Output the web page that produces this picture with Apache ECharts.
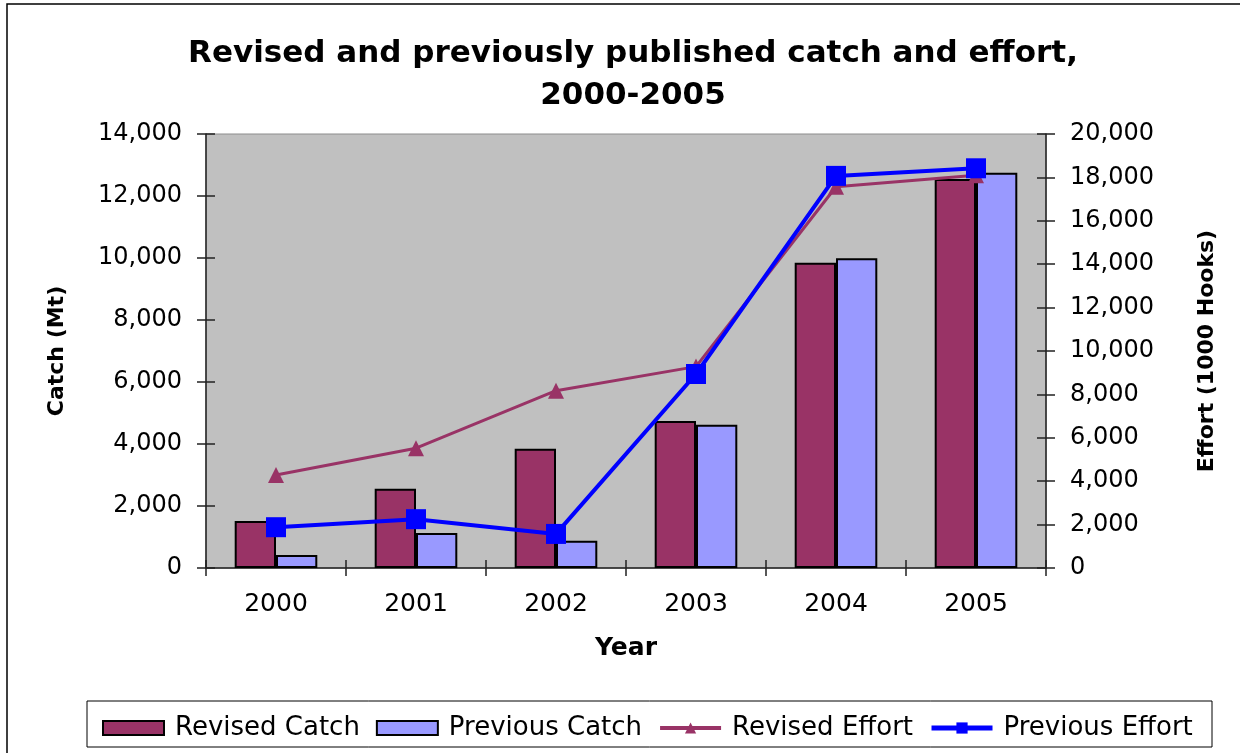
<!DOCTYPE html>
<html>
<head>
<meta charset="utf-8">
<script src="https://cdn.jsdelivr.net/npm/echarts@6/dist/echarts.min.js"></script>
<style>
  html, body { margin: 0; padding: 0; background: #ffffff; }
  #chart { width: 1240px; height: 753px; }
</style>
</head>
<body>
<div id="chart"></div>
<script>
// Catch (Mt) and effort (1000 hooks), revised vs previously published
const years = ['2000', '2001', '2002', '2003', '2004', '2005'];
const revisedCatch = [1520, 2560, 3850, 4740, 9850, 12550];
const previousCatch = [420, 1130, 880, 4620, 9990, 12750];
const revisedEffort = [4290, 5520, 8170, 9280, 17570, 18100];
const previousEffort = [1880, 2250, 1570, 8940, 18070, 18420];
const catchTicks = { min: 0, max: 14000, interval: 2000 };
const effortTicks = { min: 0, max: 20000, interval: 2000 };

const FONT = 'DejaVu Sans';
const fmt = v => Number(v).toLocaleString('en-US');

const chart = echarts.init(document.getElementById('chart'), null, { renderer: 'canvas' });

const grid = { left: 206, right: 194, top: 134, bottom: 185 };

chart.setOption({
  backgroundColor: '#ffffff',
  animation: false,
  textStyle: { fontFamily: FONT, color: '#000' },
  title: {
    text: 'Revised and previously published catch and effort,\n2000-2005',
    left: 628,
    textAlign: 'center',
    top: 28,
    textStyle: { fontFamily: FONT, fontSize: 31, fontWeight: 'bold', lineHeight: 42, color: '#000' }
  },
  graphic: [
    {
      type: 'rect', silent: true, z: -1,
      shape: { x: 7, y: 4, width: 1300, height: 800 },
      style: { fill: null, stroke: '#000', lineWidth: 1.5 }
    },
    {
      type: 'rect', silent: true,
      shape: { x: 87, y: 701, width: 1125, height: 46 },
      style: { fill: '#fff', stroke: '#000', lineWidth: 1 }
    }
  ],
  legend: {
    left: 97, top: 710,
    itemWidth: 61, itemHeight: 14, itemGap: 16,
    textStyle: { fontFamily: FONT, fontSize: 26, color: '#000', padding: [0, 0, 0, 6] },
    data: [
      { name: 'Revised Catch', icon: 'rect' },
      { name: 'Previous Catch', icon: 'rect' },
      { name: 'Revised Effort', lineStyle: { width: 4 } },
      { name: 'Previous Effort', lineStyle: { width: 5 } }
    ]
  },
  grid: Object.assign({ show: true, backgroundColor: '#c0c0c0', borderColor: '#8c8c8c', borderWidth: 1 }, grid),
  xAxis: [
    {
      type: 'category', data: years, name: 'Year', nameLocation: 'middle', nameGap: 68,
      nameTextStyle: { fontFamily: FONT, fontSize: 25, fontWeight: 'bold', color: '#000' },
      axisLine: { lineStyle: { color: '#222', width: 1.5 } },
      axisTick: { show: true, length: 8, lineStyle: { color: '#222', width: 1.5 } },
      axisLabel: { fontFamily: FONT, fontSize: 25, color: '#000', margin: 24 }
    },
    {
      // inner half of the crossing tick marks
      type: 'category', data: years, position: 'bottom',
      axisLine: { show: false }, axisLabel: { show: false },
      axisTick: { show: true, inside: true, length: 8, lineStyle: { color: '#222', width: 1.5 } }
    }
  ],
  yAxis: [
    {
      type: 'value', position: 'left', min: catchTicks.min, max: catchTicks.max, interval: catchTicks.interval,
      name: 'Catch (Mt)', nameLocation: 'middle', nameGap: 138,
      nameTextStyle: { fontFamily: FONT, fontSize: 22, fontWeight: 'bold', color: '#000' },
      axisLine: { show: true, lineStyle: { color: '#222', width: 1.5 } },
      axisTick: { show: true, length: 9, lineStyle: { color: '#222', width: 1.5 } },
      axisLabel: { fontFamily: FONT, fontSize: 24, color: '#000', margin: 24, formatter: fmt },
      splitLine: { show: false }
    },
    {
      type: 'value', position: 'right', min: effortTicks.min, max: effortTicks.max, interval: effortTicks.interval,
      name: 'Effort (1000 Hooks)', nameLocation: 'middle', nameGap: 150,
      nameTextStyle: { fontFamily: FONT, fontSize: 22, fontWeight: 'bold', color: '#000' },
      axisLine: { show: true, lineStyle: { color: '#222', width: 1.5 } },
      axisTick: { show: true, length: 9, lineStyle: { color: '#222', width: 1.5 } },
      axisLabel: { fontFamily: FONT, fontSize: 24, color: '#000', margin: 24, formatter: fmt },
      splitLine: { show: false }
    },
    {
      type: 'value', position: 'left', min: catchTicks.min, max: catchTicks.max, interval: catchTicks.interval,
      axisLine: { show: false }, axisLabel: { show: false }, splitLine: { show: false },
      axisTick: { show: true, inside: true, length: 9, lineStyle: { color: '#222', width: 1.5 } }
    },
    {
      type: 'value', position: 'right', min: effortTicks.min, max: effortTicks.max, interval: effortTicks.interval,
      axisLine: { show: false }, axisLabel: { show: false }, splitLine: { show: false },
      axisTick: { show: true, inside: true, length: 9, lineStyle: { color: '#222', width: 1.5 } }
    }
  ],
  series: [
    {
      name: 'Revised Catch', type: 'bar', yAxisIndex: 0, data: revisedCatch,
      barGap: '0%', barCategoryGap: '41%',
      itemStyle: { color: '#993366', borderColor: '#000', borderWidth: 2 }
    },
    {
      name: 'Previous Catch', type: 'bar', yAxisIndex: 0, data: previousCatch,
      barGap: '0%', barCategoryGap: '41%',
      itemStyle: { color: '#9999ff', borderColor: '#000', borderWidth: 2 }
    },
    {
      name: 'Revised Effort', type: 'line', yAxisIndex: 1, data: revisedEffort,
      symbol: 'triangle', symbolSize: 16,
      lineStyle: { color: '#993366', width: 3 },
      itemStyle: { color: '#993366' }
    },
    {
      name: 'Previous Effort', type: 'line', yAxisIndex: 1, data: previousEffort,
      symbol: 'rect', symbolSize: 20,
      lineStyle: { color: '#0000ff', width: 4 },
      itemStyle: { color: '#0000ff' }
    }
  ]
});
</script>
</body>
</html>
